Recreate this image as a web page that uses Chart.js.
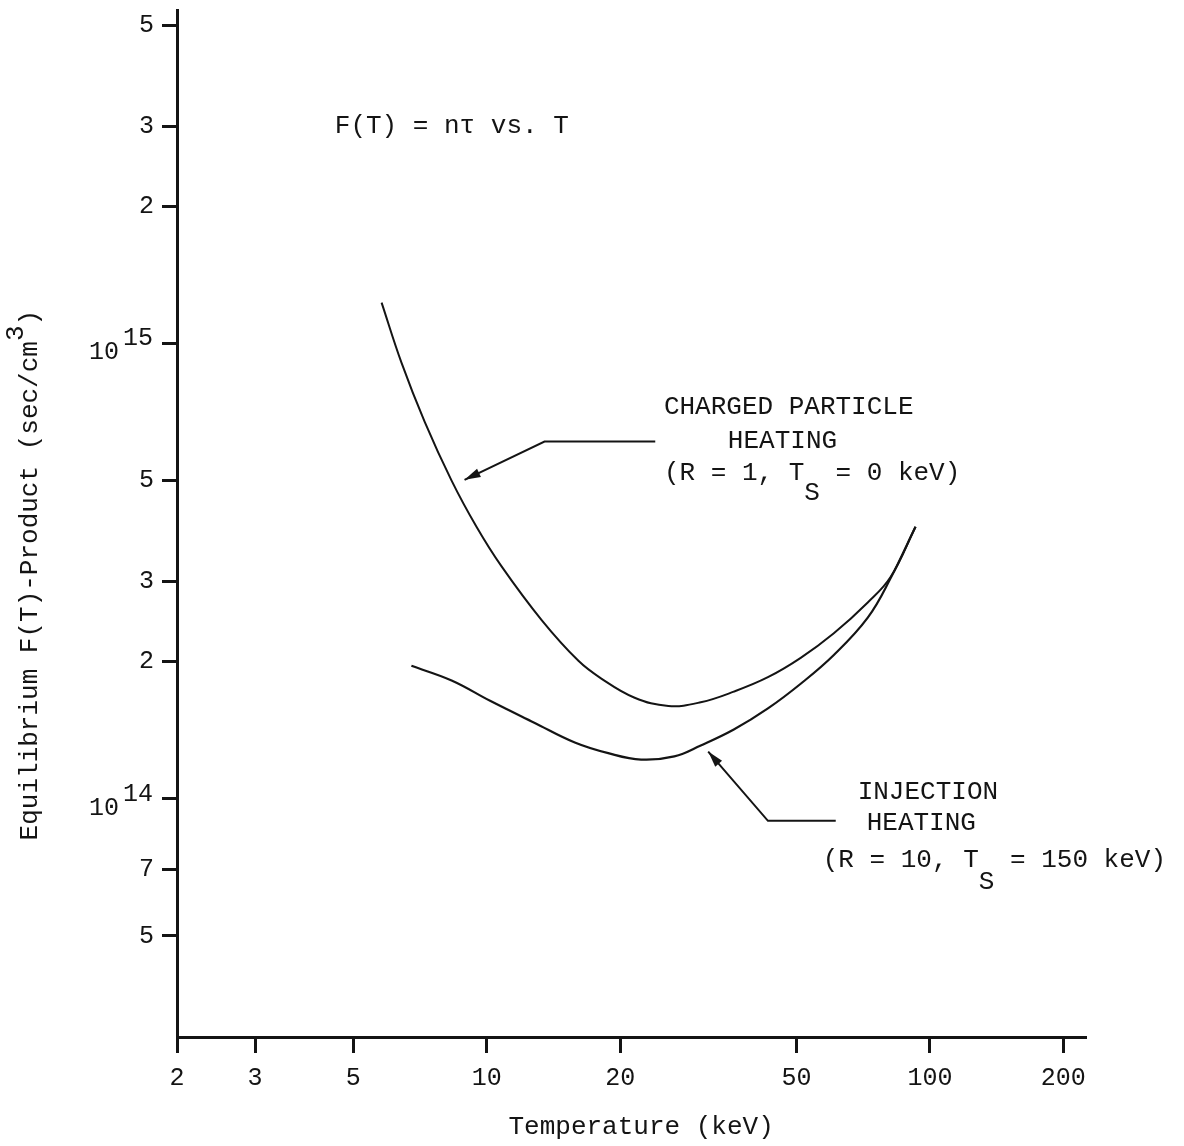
<!DOCTYPE html>
<html>
<head>
<meta charset="utf-8">
<script src="https://cdn.jsdelivr.net/npm/chart.js@4/dist/chart.umd.min.js"></script>
<style>
  html, body { margin: 0; padding: 0; background: #fff; }
  #wrap { width: 1184px; height: 1146px; }
</style>
</head>
<body>
<div id="wrap"><canvas id="ntChart" width="1184" height="1146"></canvas></div>
<script>
// temperatures (keV)
const tempCharged = [5.79, 6.42, 7.24, 8.33, 9.48, 10.8, 13.3, 16.1, 18.1, 21.5, 25.7, 30.4, 36.1, 43.1, 51.1, 60.7, 72.4, 81.5, 92.8];
const chargedHeating = [12.3e14, 9.08e14, 6.74e14, 5.00e14, 3.96e14, 3.24e14, 2.47e14, 2.01e14, 1.84e14, 1.67e14, 1.60e14, 1.63e14, 1.72e14, 1.85e14, 2.04e14, 2.31e14, 2.70e14, 3.07e14, 3.96e14];

const tempInjection = [6.76, 8.33, 10.2, 12.8, 15.8, 18.8, 22.3, 26.5, 30.4, 36.1, 43.1, 51.1, 60.7, 72.4, 81.5, 92.8];
const injectionHeating = [1.96e14, 1.82e14, 1.64e14, 1.47e14, 1.33e14, 1.26e14, 1.22e14, 1.24e14, 1.31e14, 1.42e14, 1.58e14, 1.79e14, 2.07e14, 2.50e14, 3.05e14, 3.96e14];

// tick values
const xTicks = [2, 3, 5, 10, 20, 50, 100, 200];
const yTicks = [5e13, 7e13, 1e14, 2e14, 3e14, 5e14, 1e15, 2e15, 3e15, 5e15];

// annotation text, anchored in data units (left edge, middle)
const notes = [
  { t: 4.54, v: 3.0e15, parts: [["F(T) = nτ vs. T", 0]] },
  { t: 25.1, v: 7.24e14, parts: [["CHARGED PARTICLE", 0]] },
  { t: 35.0, v: 6.09e14, parts: [["HEATING", 0]] },
  { t: 25.1, v: 5.18e14, parts: [["(R = 1, T", 0], ["S", 20], [" = 0 keV)", 0]] },
  { t: 68.7, v: 1.036e14, parts: [["INJECTION", 0]] },
  { t: 72.0, v: 8.86e13, parts: [["HEATING", 0]] },
  { t: 57.3, v: 7.34e13, parts: [["(R = 10, T", 0], ["S", 22], [" = 150 keV)", 0]] }
];

// leader lines, last point is the arrow tip
const arrows = [
  [[24.0, 6.09e14], [13.5, 6.09e14], [8.91, 5.02e14]],
  [[61.3, 8.95e13], [43.1, 8.95e13], [31.6, 1.27e14]]
];

const FONT = "'Liberation Mono', 'DejaVu Sans Mono', monospace";
const INK = "#141414";

const toPoints = (xs, ys) => xs.map((x, i) => ({ x: x, y: ys[i] }));

const extrasPlugin = {
  id: "extras",
  afterDraw(chart) {
    const ctx = chart.ctx;
    const xs = chart.scales.x;
    const ys = chart.scales.y;
    ctx.save();
    ctx.fillStyle = INK;
    ctx.strokeStyle = INK;

    // 10^14 and 10^15 tick labels
    ctx.font = "25px " + FONT;
    ctx.textBaseline = "middle";
    [[1e14, "14"], [1e15, "15"]].forEach(([v, ex]) => {
      const py = ys.getPixelForValue(v);
      ctx.textAlign = "right";
      ctx.fillText("10", 119, py + 9);
      ctx.textAlign = "left";
      ctx.fillText(ex, 123, py - 5);
    });

    // y axis title, rotated
    ctx.save();
    ctx.translate(30, ys.getPixelForValue(3.1e14));
    ctx.rotate(-Math.PI / 2);
    ctx.font = "26px " + FONT;
    ctx.textAlign = "left";
    ctx.textBaseline = "middle";
    const main = "Equilibrium F(T)-Product (sec/cm";
    const w1 = ctx.measureText(main).width;
    const w2 = ctx.measureText("3").width;
    const w3 = ctx.measureText(")").width;
    const start = -(w1 + w2 + w3) / 2;
    ctx.fillText(main, start, 0);
    ctx.fillText("3", start + w1, -14);
    ctx.fillText(")", start + w1 + w2, 0);
    ctx.restore();

    // x axis title
    ctx.font = "26px " + FONT;
    ctx.textAlign = "center";
    ctx.textBaseline = "middle";
    ctx.fillText("Temperature (keV)", xs.getPixelForValue(22.3), 1127);

    // annotation text
    ctx.font = "26px " + FONT;
    ctx.textAlign = "left";
    ctx.textBaseline = "middle";
    notes.forEach(n => {
      let px = xs.getPixelForValue(n.t);
      const py = ys.getPixelForValue(n.v);
      n.parts.forEach(([txt, dy]) => {
        ctx.fillText(txt, px, py + dy);
        px += ctx.measureText(txt).width;
      });
    });

    // leader lines with arrow heads
    ctx.lineWidth = 2;
    arrows.forEach(pts => {
      const p = pts.map(([t, v]) => [xs.getPixelForValue(t), ys.getPixelForValue(v)]);
      ctx.beginPath();
      ctx.moveTo(p[0][0], p[0][1]);
      for (let i = 1; i < p.length; i++) ctx.lineTo(p[i][0], p[i][1]);
      ctx.stroke();
      const [ax, ay] = p[p.length - 2];
      const [bx, by] = p[p.length - 1];
      const a = Math.atan2(by - ay, bx - ax);
      const len = 16, half = 4.5;
      ctx.beginPath();
      ctx.moveTo(bx, by);
      ctx.lineTo(bx - len * Math.cos(a) + half * Math.sin(a), by - len * Math.sin(a) - half * Math.cos(a));
      ctx.lineTo(bx - len * Math.cos(a) - half * Math.sin(a), by - len * Math.sin(a) + half * Math.cos(a));
      ctx.closePath();
      ctx.fill();
    });
    ctx.restore();
  }
};

new Chart(document.getElementById("ntChart"), {
  type: "line",
  data: {
    datasets: [
      {
        label: "Charged particle heating",
        data: toPoints(tempCharged, chargedHeating),
        borderColor: INK,
        borderWidth: 2,
        pointRadius: 0,
        tension: 0.4,
        fill: false
      },
      {
        label: "Injection heating",
        data: toPoints(tempInjection, injectionHeating),
        borderColor: INK,
        borderWidth: 2.2,
        pointRadius: 0,
        tension: 0.4,
        fill: false
      }
    ]
  },
  options: {
    responsive: false,
    animation: false,
    devicePixelRatio: 1,
    layout: { padding: { top: 10, right: 98, left: 0, bottom: 0 } },
    plugins: {
      legend: { display: false },
      tooltip: { enabled: false }
    },
    scales: {
      x: {
        type: "logarithmic",
        position: "bottom",
        min: 2,
        max: 225,
        afterFit(scale) {
          scale.height = 109;
          scale.paddingLeft = 0;
          scale.paddingRight = 0;
        },
        afterBuildTicks(scale) { scale.ticks = xTicks.map(v => ({ value: v })); },
        ticks: {
          autoSkip: false,
          maxRotation: 0,
          padding: 10,
          color: INK,
          font: { family: FONT, size: 25 },
          callback: v => String(v)
        },
        grid: { drawOnChartArea: false, tickLength: 16, tickWidth: 3, color: INK },
        border: { color: INK, width: 3 }
      },
      y: {
        type: "logarithmic",
        min: 3e13,
        max: 5.4e15,
        afterFit(scale) {
          scale.width = 177;
          scale.paddingTop = 0;
          scale.paddingBottom = 0;
        },
        afterBuildTicks(scale) { scale.ticks = yTicks.map(v => ({ value: v })); },
        ticks: {
          autoSkip: false,
          padding: 8,
          color: INK,
          font: { family: FONT, size: 25 },
          callback: v => {
            const e = Math.floor(Math.log10(v) + 1e-9);
            const m = Math.round(v / Math.pow(10, e));
            return m === 1 ? "" : String(m);
          }
        },
        grid: { drawOnChartArea: false, tickLength: 15, tickWidth: 3, color: INK },
        border: { color: INK, width: 3 }
      }
    }
  },
  plugins: [extrasPlugin]
});
</script>
</body>
</html>
